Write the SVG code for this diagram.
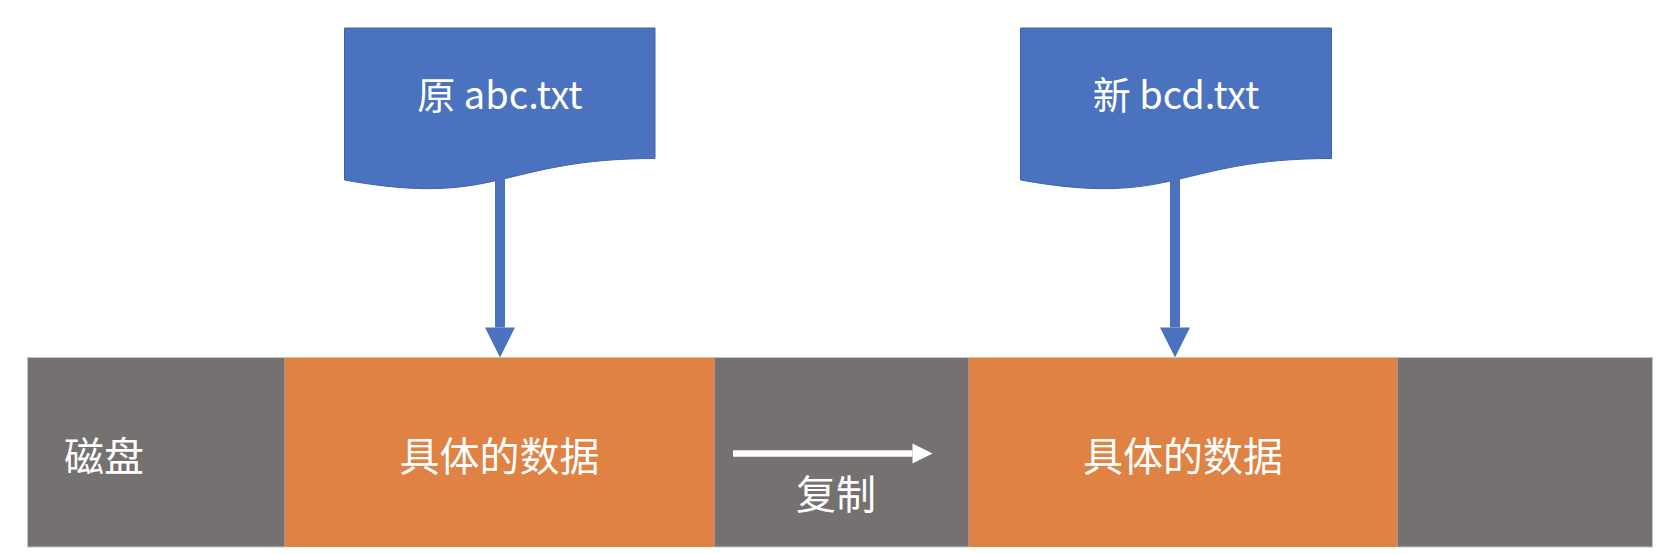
<svg xmlns="http://www.w3.org/2000/svg" width="1662" height="554" viewBox="0 0 1662 554">
  <style>
    .doc { fill: #4A72BE; stroke: #3F64A8; stroke-width: 1; }
    .gray { fill: #767171; stroke: #c4c4c4; stroke-width: 1; }
    .orange { fill: #E08243; }
    .t { font-family: "Noto Sans CJK SC", "Noto Sans", sans-serif; fill: #ffffff; }
    .lbl { font-size: 38px; text-anchor: middle; }
    .big { font-size: 40px; }
  </style>
  <defs>
    <marker id="blueHead" markerUnits="userSpaceOnUse" markerWidth="30" markerHeight="30" refX="0" refY="15" orient="auto" overflow="visible">
      <path d="M0,0 L30,15 L0,30 Z" fill="#4A72BE"/>
    </marker>
    <marker id="whiteHead" markerUnits="userSpaceOnUse" markerWidth="20" markerHeight="20" refX="0" refY="10" orient="auto" overflow="visible">
      <path d="M0,0 L20,10 L0,20 Z" fill="#ffffff"/>
    </marker>
  </defs>

  <g id="disk">
    <rect id="seg-gray-1" class="gray" x="27.5" y="357.5" width="257.5" height="189.5"/>
    <rect id="seg-gray-2" class="gray" x="714" y="357.5" width="255" height="189.5"/>
    <rect id="seg-gray-3" class="gray" x="1397" y="357.5" width="255.5" height="189.5"/>
    <text class="t big" x="64" y="471">磁盘</text>
  </g>

  <g id="data1">
    <rect class="orange" x="285" y="357.5" width="429" height="189.5"/>
    <text class="t big" x="499.5" y="471" text-anchor="middle">具体的数据</text>
  </g>

  <g id="data2">
    <rect class="orange" x="969" y="357.5" width="428" height="189.5"/>
    <text class="t big" x="1183" y="471" text-anchor="middle">具体的数据</text>
  </g>

  <g id="file1">
    <path class="doc" d="M344.5,28 H655 V158.5 C499.75,158.5 499.75,208.2 344.5,180 Z"/>
    <text class="t lbl" x="500" y="109">原 abc.txt</text>
  </g>

  <g id="file2">
    <path class="doc" d="M1020.5,28 H1331.5 V158.5 C1176,158.5 1176,208.2 1020.5,180 Z"/>
    <text class="t lbl" x="1176" y="109">新 bcd.txt</text>
  </g>

  <g id="copy-label">
    <text class="t big" x="836" y="509" text-anchor="middle">复制</text>
  </g>

  <g id="connectors">
    <line x1="500" y1="176" x2="500" y2="327.5" stroke="#4A72BE" stroke-width="10" marker-end="url(#blueHead)"/>
    <line x1="1175" y1="176" x2="1175" y2="327.5" stroke="#4A72BE" stroke-width="10" marker-end="url(#blueHead)"/>
    <line x1="733" y1="453.5" x2="912.5" y2="453.5" stroke="#ffffff" stroke-width="6.5" marker-end="url(#whiteHead)"/>
  </g>
</svg>
